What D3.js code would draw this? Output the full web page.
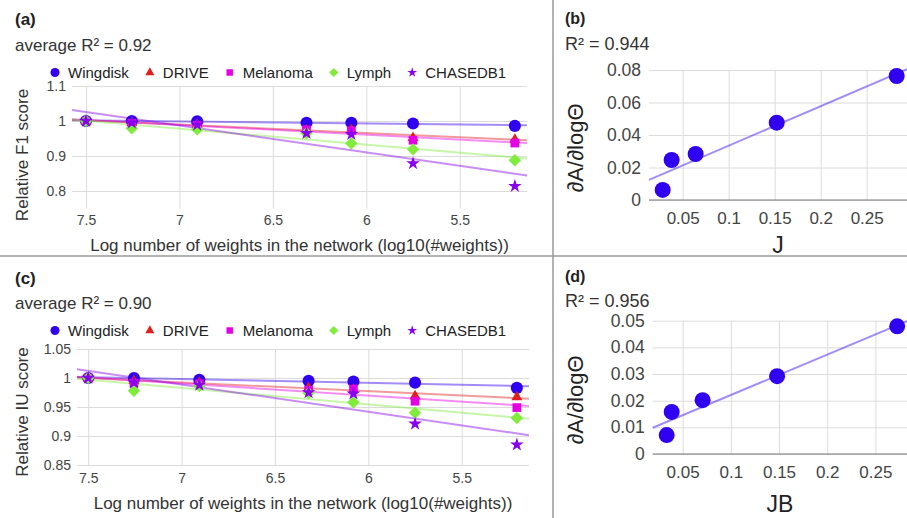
<!DOCTYPE html>
<html>
<head>
<meta charset="utf-8">
<script src="https://cdn.jsdelivr.net/npm/d3@7"></script>
<style>
  html, body { margin: 0; padding: 0; background: #fff; }
  svg { display: block; font-family: "Liberation Sans", Arial, sans-serif; }
</style>
</head>
<body>
<svg id="fig" width="907" height="518"></svg>
<script>
// ---- data -------------------------------------------------------------
const seriesNames  = ["Wingdisk", "DRIVE", "Melanoma", "Lymph", "CHASEDB1"];
const seriesColors = ["#3000f0", "#e0201e", "#e600e6", "#80ec3c", "#8800ee"];
const seriesShapes = ["circle", "triangle", "square", "diamond", "star"];

// log10 of the number of weights, one entry per network size
const logWeights = [7.5, 7.255, 6.905, 6.32, 6.08, 5.75, 5.205];

// relative F1 score per dataset
const f1Wingdisk = [1, 1.0, 0.999, 0.995, 0.995, 0.993, 0.986];
const f1Drive    = [1, 0.995, 0.99, 0.973, 0.975, 0.952, 0.947];
const f1Melanoma = [1, 0.993, 0.988, 0.975, 0.972, 0.945, 0.937];
const f1Lymph    = [1, 0.979, 0.976, 0.965, 0.936, 0.919, 0.888];
const f1Chase    = [1, 0.995, 0.989, 0.965, 0.962, 0.879, 0.814];

// relative IU score per dataset
const iuWingdisk = [1, 1.0, 0.997, 0.995, 0.994, 0.992, 0.983];
const iuDrive    = [1, 0.995, 0.992, 0.983, 0.980, 0.969, 0.967];
const iuMelanoma = [1, 0.991, 0.99, 0.979, 0.981, 0.960, 0.949];
const iuLymph    = [1, 0.978, 0.986, 0.974, 0.958, 0.940, 0.931];
const iuChase    = [1, 0.992, 0.988, 0.975, 0.973, 0.921, 0.885];

// slope dA/dlogΘ against J and JB
const jValues   = [0.0283, 0.038, 0.0641, 0.1522, 0.2826];
const slopeF1   = [0.0062, 0.0246, 0.0283, 0.0476, 0.0763];
const jbValues  = [0.0334, 0.0386, 0.0707, 0.148, 0.2726];
const slopeIU   = [0.0071, 0.0158, 0.0202, 0.0292, 0.0479];

// tick labels
const logTicks   = [7.5, 7, 6.5, 6, 5.5];
const f1Ticks    = [0.8, 0.9, 1, 1.1];
const iuTicks    = [0.85, 0.9, 0.95, 1, 1.05];
const jTicks     = [0.05, 0.1, 0.15, 0.2, 0.25];
const slopeF1Ticks = [0, 0.02, 0.04, 0.06, 0.08];
const slopeIUTicks = [0, 0.01, 0.02, 0.03, 0.04, 0.05];

// ---- helpers ------------------------------------------------------------
const svg = d3.select("#fig");
const GRID = "#dcdcdc";

function fit(xs, ys) {
  const mx = d3.mean(xs), my = d3.mean(ys);
  let sxy = 0, sxx = 0;
  xs.forEach((x, i) => { sxy += (x - mx) * (ys[i] - my); sxx += (x - mx) * (x - mx); });
  const b = sxy / sxx;
  return x => my + b * (x - mx);
}

function markerPath(shape, s) {
  if (shape === "diamond") {
    return `M0,${-s}L${s},0L0,${s}L${-s},0Z`;
  }
  const types = { circle: d3.symbolCircle, triangle: d3.symbolTriangle,
                  square: d3.symbolSquare, star: d3.symbolStar };
  return d3.symbol(types[shape], s)();
}

// marker sizes (d3 symbol areas, or half-diagonal for the diamond)
const plotSizes   = { circle: 115, triangle: 52, square: 76, diamond: 6.2, star: 58 };
const legendSizes = { circle: 64, triangle: 36, square: 42, diamond: 4.6, star: 30 };

function styleAxis(g, size, color) {
  g.select(".domain").remove();
  g.selectAll(".tick line").attr("stroke", GRID).attr("stroke-width", 1);
  g.selectAll(".tick text").attr("fill", color).style("font-size", size + "px")
    .attr("font-family", null);
}

// ---- multi-series panel (a) / (c) ---------------------------------------
function multiPanel(cfg) {
  const g = svg.append("g").attr("transform", `translate(0,${cfg.top})`);
  const x = d3.scaleLinear().domain(cfg.xDomain).range([cfg.left, cfg.right]);
  const y = d3.scaleLinear().domain(cfg.yDomain).range([cfg.bottom, cfg.plotTop]);

  g.append("text").attr("x", 15).attr("y", cfg.labelY).text(cfg.label)
    .attr("font-weight", "bold").style("font-size", "17px").attr("fill", "#222");
  g.append("text").attr("x", 15).attr("y", cfg.r2Y).text(cfg.r2)
    .style("font-size", "17px").attr("fill", "#333");

  // legend
  let lx = 55;
  seriesNames.forEach((name, i) => {
    g.append("path").attr("d", markerPath(seriesShapes[i], legendSizes[seriesShapes[i]]))
      .attr("transform", `translate(${lx},${cfg.legendY})`).attr("fill", seriesColors[i]);
    const t = g.append("text").attr("x", lx + 13).attr("y", cfg.legendY).attr("dy", "0.36em")
      .text(name).style("font-size", "15px").attr("fill", "#222");
    lx += 13 + t.node().getComputedTextLength() + 21;
  });

  // axes with gridlines
  g.append("g").attr("transform", `translate(${cfg.left},0)`)
    .call(d3.axisLeft(y).tickValues(cfg.yTicks).tickFormat(d3.format(""))
      .tickSize(-(cfg.right - cfg.left)).tickPadding(6))
    .call(a => styleAxis(a, 14, "#444"));
  g.append("g").attr("transform", `translate(0,${cfg.bottom})`)
    .call(d3.axisBottom(x).tickValues(logTicks).tickFormat(d3.format(""))
      .tickSize(-(cfg.bottom - cfg.plotTop)).tickPadding(cfg.xPad))
    .call(a => styleAxis(a, 14, "#444"));

  // trend lines
  cfg.series.forEach((vals, i) => {
    const f = fit(logWeights, vals);
    const d0 = cfg.xDomain[0], d1 = cfg.xDomain[1];
    g.append("line").attr("x1", x(d0)).attr("y1", y(f(d0)))
      .attr("x2", x(d1)).attr("y2", y(f(d1)))
      .attr("stroke", seriesColors[i]).attr("stroke-opacity", 0.45).attr("stroke-width", 2);
  });

  // markers
  cfg.series.forEach((vals, i) => {
    g.append("g").selectAll("path").data(vals).join("path")
      .attr("d", markerPath(seriesShapes[i], plotSizes[seriesShapes[i]]))
      .attr("transform", (v, k) => `translate(${x(logWeights[k])},${y(v)})`)
      .attr("fill", seriesColors[i]);
  });

  // axis titles
  g.append("text").attr("x", (cfg.left + cfg.right) / 2).attr("y", cfg.xTitleY)
    .attr("text-anchor", "middle").text("Log number of weights in the network (log10(#weights))")
    .style("font-size", "17px").attr("fill", "#333");
  g.append("text").attr("transform", `translate(22,${cfg.yTitleY}) rotate(-90)`)
    .attr("text-anchor", "middle").attr("dy", "0.35em").text(cfg.yTitle)
    .style("font-size", "17px").attr("fill", "#333");
}

// ---- single-series panel (b) / (d) --------------------------------------
function singlePanel(cfg) {
  const g = svg.append("g").attr("transform", `translate(0,${cfg.top})`);
  const x = d3.scaleLinear().domain(cfg.xDomain).range([cfg.left, cfg.right]);
  const y = d3.scaleLinear().domain(cfg.yDomain).range([cfg.bottom, cfg.plotTop]);

  g.append("text").attr("x", 565).attr("y", cfg.labelY).text(cfg.label)
    .attr("font-weight", "bold").style("font-size", "16px").attr("fill", "#222");
  g.append("text").attr("x", 565).attr("y", cfg.r2Y).text(cfg.r2)
    .style("font-size", "18px").attr("fill", "#333");

  g.append("g").attr("transform", `translate(${cfg.left},0)`)
    .call(d3.axisLeft(y).tickValues(cfg.yTicks).tickFormat(d3.format(""))
      .tickSize(-(cfg.right - cfg.left)).tickPadding(8))
    .call(a => styleAxis(a, 17.5, "#444"));
  g.append("g").attr("transform", `translate(0,${cfg.bottom})`)
    .call(d3.axisBottom(x).tickValues(jTicks).tickFormat(d3.format(""))
      .tickSize(-(cfg.bottom - cfg.plotTop)).tickPadding(cfg.xPad))
    .call(a => styleAxis(a, 17, "#444"));
  g.append("line").attr("x1", cfg.left).attr("x2", cfg.right)
    .attr("y1", y(0)).attr("y2", y(0)).attr("stroke", "#777").attr("stroke-width", 1);

  const f = fit(cfg.xs, cfg.ys);
  const d0 = cfg.xDomain[0], d1 = cfg.xDomain[1];
  g.append("line").attr("x1", x(d0)).attr("y1", y(f(d0)))
    .attr("x2", x(d1)).attr("y2", y(f(d1)))
    .attr("stroke", "#3000f0").attr("stroke-opacity", 0.45).attr("stroke-width", 2);

  g.append("g").selectAll("circle").data(cfg.ys).join("circle")
    .attr("cx", (v, k) => x(cfg.xs[k])).attr("cy", v => y(v)).attr("r", 8)
    .attr("fill", "#3000f0");

  g.append("text").attr("x", (cfg.left + cfg.right) / 2).attr("y", cfg.xTitleY)
    .attr("text-anchor", "middle").text(cfg.xTitle)
    .style("font-size", "23px").attr("fill", "#222");
  g.append("text").attr("transform", `translate(575,${cfg.yTitleY}) rotate(-90)`)
    .attr("text-anchor", "middle").attr("dy", "0.35em").text("∂A/∂logΘ")
    .style("font-size", "22px").attr("fill", "#222");
}

// ---- layout -------------------------------------------------------------
multiPanel({
  top: 0, label: "(a)", labelY: 25, r2: "average R² = 0.92", r2Y: 51, legendY: 72.5,
  left: 72, right: 527, plotTop: 86, bottom: 208.5, xPad: 6.5,
  xDomain: [7.575, 5.14], yDomain: [0.75, 1.1], yTicks: f1Ticks,
  series: [f1Wingdisk, f1Drive, f1Melanoma, f1Lymph, f1Chase],
  xTitleY: 251, yTitle: "Relative F1 score", yTitleY: 155
});
multiPanel({
  top: 0, label: "(c)", labelY: 284, r2: "average R² = 0.90", r2Y: 309, legendY: 330.5,
  left: 77, right: 529, plotTop: 349, bottom: 465, xPad: 8.3,
  xDomain: [7.56, 5.14], yDomain: [0.85, 1.05], yTicks: iuTicks,
  series: [iuWingdisk, iuDrive, iuMelanoma, iuLymph, iuChase],
  xTitleY: 509, yTitle: "Relative IU score", yTitleY: 412
});
singlePanel({
  top: 0, label: "(b)", labelY: 24, r2: "R² = 0.944", r2Y: 50,
  left: 649, right: 907, plotTop: 70, bottom: 200, xPad: 12,
  xDomain: [0.0134, 0.2938], yDomain: [0, 0.08], yTicks: slopeF1Ticks,
  xs: jValues, ys: slopeF1, xTitle: "J", xTitleY: 253, yTitleY: 148
});
singlePanel({
  top: 0, label: "(d)", labelY: 282, r2: "R² = 0.956", r2Y: 307,
  left: 652.7, right: 907, plotTop: 320.7, bottom: 454, xPad: 11.7,
  xDomain: [0.0189, 0.2828], yDomain: [0, 0.05], yTicks: slopeIUTicks,
  xs: jbValues, ys: slopeIU, xTitle: "JB", xTitleY: 512, yTitleY: 400
});

// panel dividers
svg.append("line").attr("x1", 0).attr("x2", 907).attr("y1", 256).attr("y2", 256)
  .attr("stroke", "#9a9a9a").attr("stroke-width", 1.5);
svg.append("line").attr("x1", 553).attr("x2", 553).attr("y1", 0).attr("y2", 518)
  .attr("stroke", "#9a9a9a").attr("stroke-width", 1.5);
</script>
</body>
</html>
